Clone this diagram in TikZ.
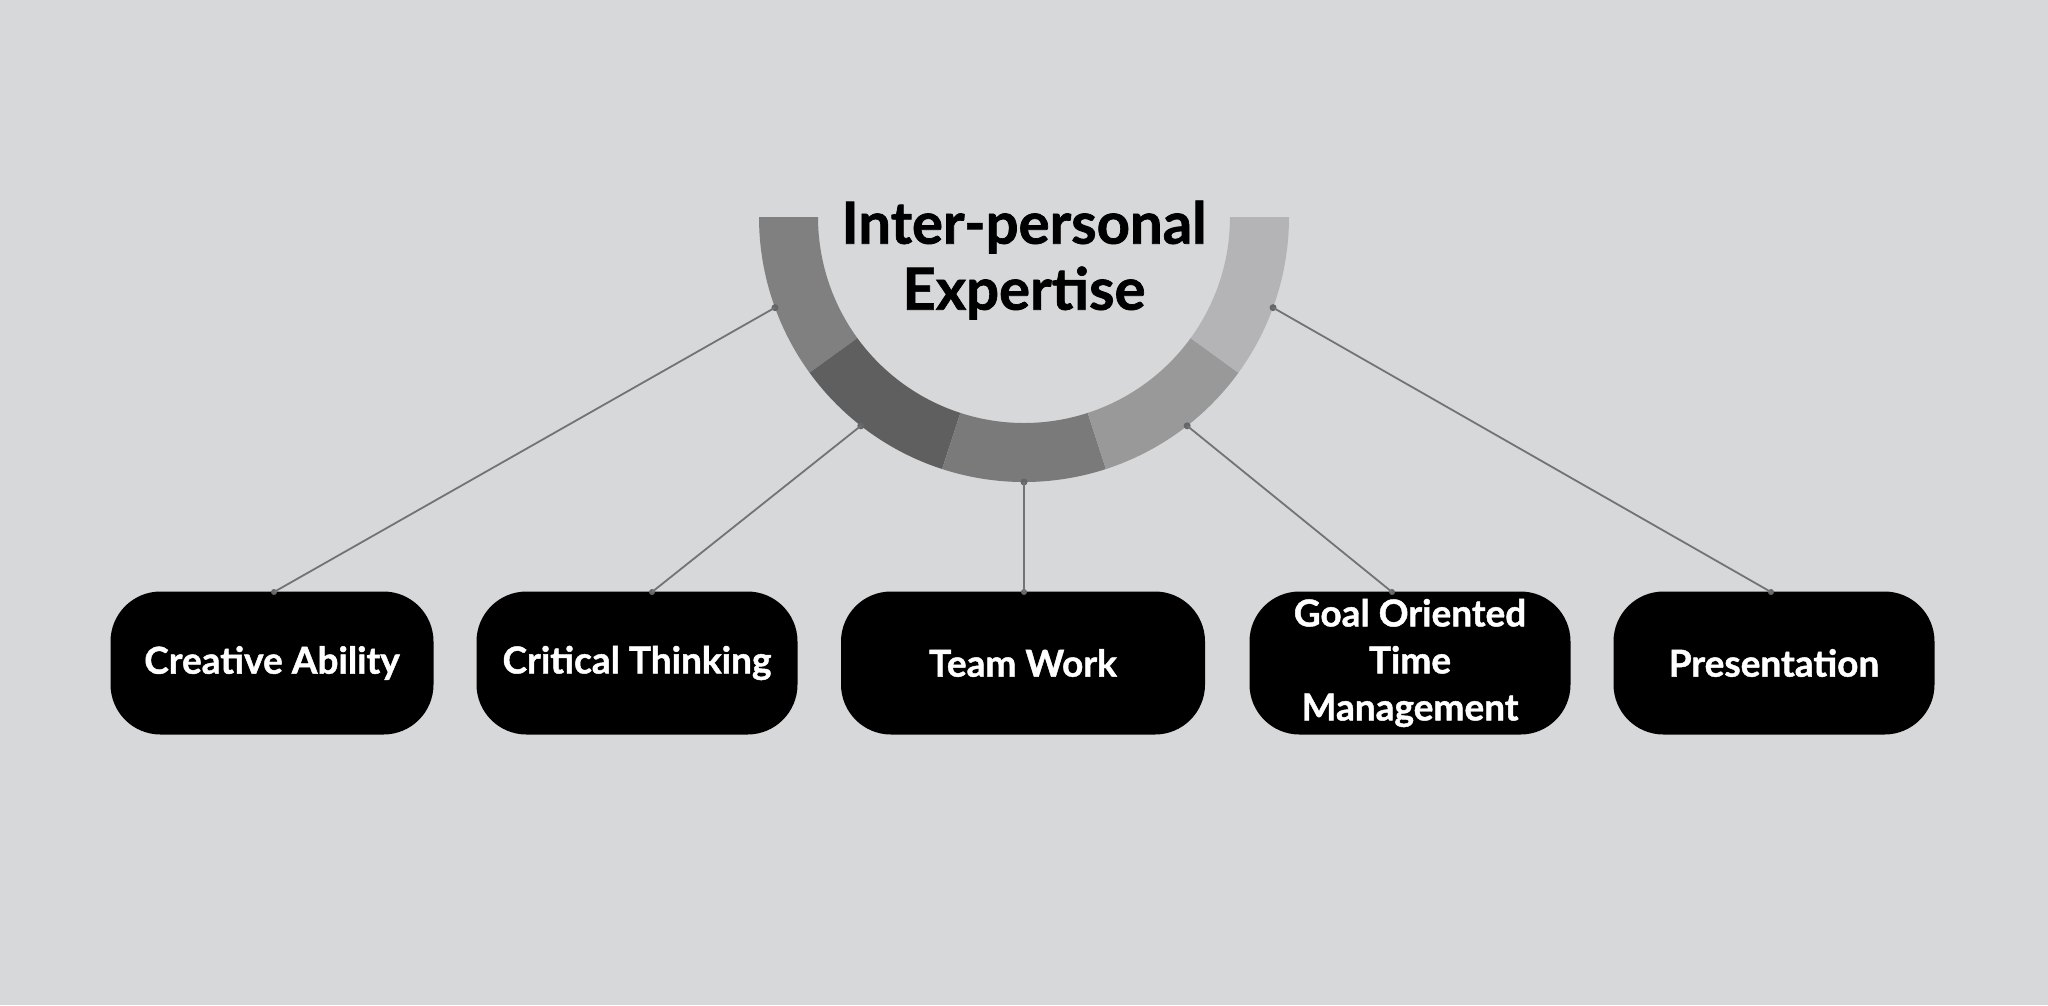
\documentclass[tikz,border=0pt]{standalone}
\usepackage{fontspec}
\setmainfont{Lato}[BoldFeatures={FakeBold=1.2}]
\begin{document}
\begin{tikzpicture}[x=1pt,y=-1pt,
  box/.style={fill=black,rounded corners=50pt,text=white,font=\fontsize{37}{47}\selectfont\bfseries,align=center,minimum height=143pt,inner sep=0pt},
  con/.style={draw=black!55,line width=1.8pt},
  dot/.style={circle,fill=black!60,inner sep=0pt,minimum size=7pt}]
\definecolor{bg}{HTML}{D7D8DA}
\fill[bg] (0,0) rectangle (2048,1005);
\def\cx{1024}\def\cy{217}\def\R{265}\def\r{206}
\foreach \a/\b/\c in {180/216/808080,216/252/5f5f5f,252/288/7a7a7a,288/324/999999,324/360/B4B4B6}{
  \definecolor{segc}{HTML}{\c}
  \fill[segc] ({\cx+\R*cos(\a)},{\cy-\R*sin(\a)}) arc[start angle=-\a,end angle=-\b,radius=\R]
    -- ({\cx+\r*cos(\b)},{\cy-\r*sin(\b)}) arc[start angle=-\b,end angle=-\a,radius=\r] -- cycle;
}
\node[font=\fontsize{58}{66}\selectfont\bfseries,align=center] (title) at (1024,260) {Inter-personal\\Expertise};
\foreach \n/\a in {p1/200,p2/232,p3/270,p4/308,p5/340}
  \node[dot] (\n) at ({\cx+\R*cos(\a)},{\cy-\R*sin(\a)}) {};
\node[box,minimum width=323pt] (b1) at (272,663) {Creative Ability};
\node[box,minimum width=321pt] (b2) at (637,663) {Critical Thinking};
\node[box,minimum width=364pt] (b3) at (1023,663) {Team Work};
\node[box,minimum width=321pt] (b4) at (1410,663) {Goal Oriented\\Time\\Management};
\node[box,minimum width=321pt] (b5) at (1774,663) {Presentation};
\foreach \i/\x in {1/274,2/652,3/1024,4/1392,5/1771}{
  \coordinate (t\i) at (\x,592);
  \node[dot,minimum size=6pt] at (t\i) {};
  \draw[con] (p\i.center) -- (t\i);
}
\end{tikzpicture}
\end{document}
